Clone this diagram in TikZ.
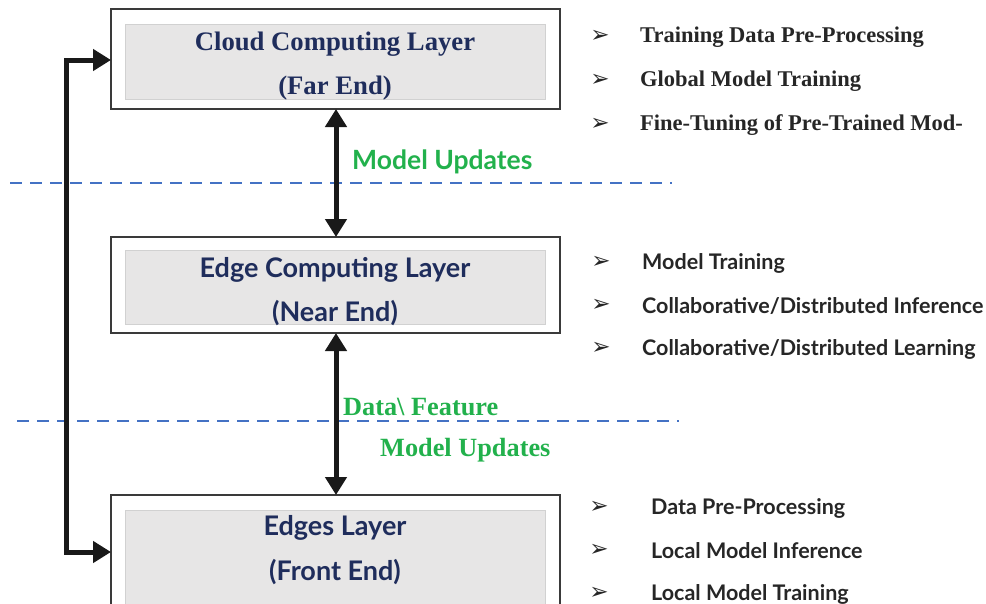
\documentclass[tikz,border=0pt]{standalone}
\usepackage{fontspec}
\setmainfont{Liberation Serif}
\newfontfamily\sansf{Lato}
\newfontfamily\symf{DejaVu Sans}
\usetikzlibrary{arrows.meta}
\definecolor{navy}{HTML}{1F2D5C}
\definecolor{grn}{HTML}{22B14C}
\definecolor{dashblue}{HTML}{4472C4}
\definecolor{boxgray}{HTML}{E7E6E6}
\definecolor{frame}{HTML}{3A3A3A}
\definecolor{txt}{HTML}{262626}

\tikzset{
  outerbox/.style={draw=frame, line width=1.4pt, fill=white, inner sep=0pt, outer sep=0pt,
                   minimum width=449pt},
  innerbox/.style={draw=black!18, line width=0.8pt, fill=boxgray, inner sep=0pt, outer sep=0pt,
                   minimum width=420pt},
  serifhead/.style={text=navy, font=\fontsize{26.7}{30}\selectfont\bfseries, inner sep=0pt, anchor=center},
  sanshead/.style={text=navy, font=\sansf\fontsize{27}{31}\selectfont\bfseries, inner sep=0pt, anchor=center},
  bul/.style={text=txt, font=\symf\fontsize{23}{26}\selectfont, inner sep=0pt, anchor=center},
  seriflist/.style={text=txt, font=\fontsize{22.5}{26}\selectfont\bfseries, inner sep=0pt, anchor=west},
  sanslist/.style={text=txt, font=\sansf\fontsize{21.5}{25}\selectfont\bfseries, inner sep=0pt, anchor=west},
  grnsans/.style={text=grn, font=\sansf\fontsize{26.5}{30}\selectfont\bfseries, inner sep=0pt, anchor=west},
  grnserif/.style={text=grn, font=\fontsize{26.3}{30}\selectfont\bfseries, inner sep=0pt, anchor=west},
  divider/.style={dashblue, line width=2.8pt, dash pattern=on 12pt off 8pt},
  link/.style={line width=5pt, black!90, {Triangle[width=21pt,length=18pt]}-{Triangle[width=21pt,length=18pt]}},
}

\begin{document}
\begin{tikzpicture}[x=1pt,y=-1pt]
\useasboundingbox (0,0) rectangle (986,603);
\clip (0,0) rectangle (986,603);

% dashed layer boundaries
\coordinate (d1a) at (10,183);
\coordinate (d1b) at (672,183);
\coordinate (d2a) at (17,421);
\coordinate (d2b) at (679,421);
\draw[divider] (d1a) -- (d1b);
\draw[divider] (d2a) -- (d2b);

% cloud layer
\node[outerbox, minimum height=100pt] (cloud) at (335.5,59) {};
\node[innerbox, minimum height=75pt] (cloudin) at (335,62) {};
\node[serifhead] (cloudt1) at (335,44) {Cloud Computing Layer};
\node[serifhead] (cloudt2) at (335,88) {(Far End)};

% edge computing layer
\node[outerbox, minimum height=96pt] (edge) at (335.5,285) {};
\node[innerbox, minimum height=74pt] (edgein) at (335,287) {};
\node[sanshead] (edget1) at (335,270) {Edge Computing Layer};
\node[sanshead] (edget2) at (335,313) {(Near End)};

% edges layer
\node[outerbox, minimum height=120pt] (front) at (335.5,555) {};
\node[innerbox, minimum height=100pt] (frontin) at (335.5,560) {};
\node[sanshead] (frontt1) at (335,528) {Edges Layer};
\node[sanshead] (frontt2) at (335,572) {(Front End)};

% vertical links between layers
\draw[link] (cloud.south -| 336,0) -- (edge.north -| 336,0);
\draw[link] (edge.south -| 336,0) -- (front.north -| 336,0);

% long link from the edges layer straight to the cloud
\coordinate (lt) at (66,60);
\coordinate (lb) at (66,552);
\draw[link] (cloud.west |- lt) -- (lt) -- (lb) -- (front.west |- lb);

% link labels
\node[grnsans] (mu1) at (352,162) {Model Updates};
\node[grnserif] (df) at (343,407) {Data\textbackslash{} Feature};
\node[grnserif] (mu2) at (380,450) {Model Updates};

% cloud tasks
\node[bul] (b11) at (600,36) {➢};
\node[seriflist] (c1) at (640,37) {Training Data Pre-Processing};
\node[bul] (b12) at (600,80) {➢};
\node[seriflist] (c2) at (640,81) {Global Model Training};
\node[bul] (b13) at (600,124) {➢};
\node[seriflist] (c3) at (640,125) {Fine-Tuning of Pre-Trained Mod-};

% edge computing tasks
\node[bul] (b21) at (601,262) {➢};
\node[sanslist] (e1) at (642,263) {Model Training};
\node[bul] (b22) at (601,305) {➢};
\node[sanslist] (e2) at (642,306) {Collaborative/Distributed Inference};
\node[bul] (b23) at (601,348) {➢};
\node[sanslist] (e3) at (642,349) {Collaborative/Distributed Learning};

% edges layer tasks
\node[bul] (b31) at (599,507) {➢};
\node[sanslist] (f1) at (651,508) {Data Pre-Processing};
\node[bul] (b32) at (599,550) {➢};
\node[sanslist] (f2) at (651,551) {Local Model Inference};
\node[bul] (b33) at (599,593) {➢};
\node[sanslist] (f3) at (651,594) {Local Model Training};
\end{tikzpicture}
\end{document}
